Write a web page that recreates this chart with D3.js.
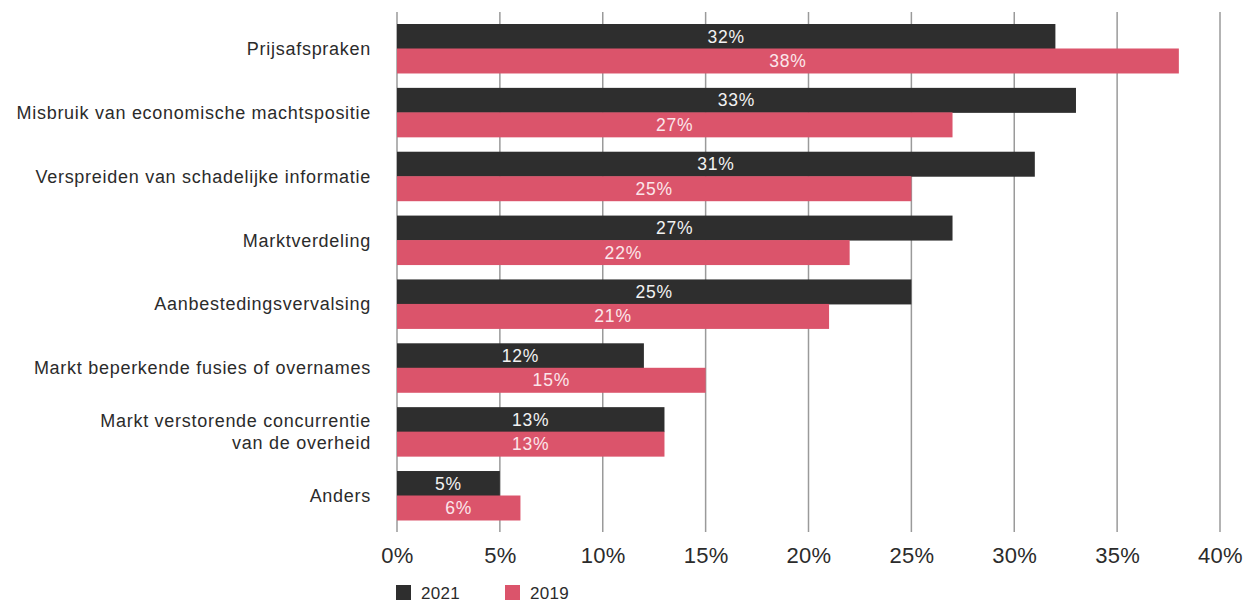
<!DOCTYPE html>
<html>
<head>
<meta charset="utf-8">
<script src="https://cdn.jsdelivr.net/npm/d3@7"></script>
<style>
  html, body { margin: 0; padding: 0; background: #fff; }
  svg { display: block; font-family: "Liberation Sans", Arial, Helvetica, sans-serif; }
</style>
</head>
<body>
<svg id="chart" width="1248" height="603"></svg>
<script>
// Categories (two-line labels split with "\n")
const categories = [
  "Prijsafspraken",
  "Misbruik van economische machtspositie",
  "Verspreiden van schadelijke informatie",
  "Marktverdeling",
  "Aanbestedingsvervalsing",
  "Markt beperkende fusies of overnames",
  "Markt verstorende concurrentie\nvan de overheid",
  "Anders"
];
const seriesNames = ["2021", "2019"];
const values2021 = [32, 33, 31, 27, 25, 12, 13, 5];
const values2019 = [38, 27, 25, 22, 21, 15, 13, 6];
const tickValues = [0, 5, 10, 15, 20, 25, 30, 35, 40];

const colors = { "2021": "#2e2e2e", "2019": "#db546b" };
const labelColors = { "2021": "#f2f2f2", "2019": "#fbe6ea" };

const svg = d3.select("#chart");
const plotLeft = 397, plotRight = 1220, plotTop = 12, plotBottom = 532;

const x = d3.scaleLinear().domain([0, 40]).range([plotLeft, plotRight]);
const y = d3.scaleBand().domain(categories).range([plotTop, plotBottom])
  .paddingInner(0.233).paddingOuter(0.188);
const ySub = d3.scaleBand().domain(seriesNames).range([0, y.bandwidth()]);

// Vertical gridlines
svg.append("g")
  .selectAll("line")
  .data(tickValues)
  .join("line")
  .attr("x1", d => x(d)).attr("x2", d => x(d))
  .attr("y1", plotTop).attr("y2", plotBottom)
  .attr("stroke", "#9a9a9a")
  .attr("stroke-width", 1.5);

const rows = categories.map((c, i) => ({
  cat: c,
  vals: [{ s: "2021", v: values2021[i] }, { s: "2019", v: values2019[i] }]
}));

const groups = svg.append("g").selectAll("g")
  .data(rows)
  .join("g")
  .attr("transform", d => `translate(0,${y(d.cat)})`);

groups.selectAll("rect")
  .data(d => d.vals)
  .join("rect")
  .attr("x", x(0))
  .attr("y", d => ySub(d.s))
  .attr("width", d => x(d.v) - x(0))
  .attr("height", ySub.bandwidth() + 0.5)
  .attr("fill", d => colors[d.s]);

groups.selectAll("text.val")
  .data(d => d.vals)
  .join("text")
  .attr("class", "val")
  .attr("x", d => (x(0) + x(d.v)) / 2)
  .attr("y", d => ySub(d.s) + ySub.bandwidth() / 2)
  .attr("dy", "0.36em")
  .attr("text-anchor", "middle")
  .attr("font-size", 17.5)
  .attr("letter-spacing", 0.8)
  .attr("fill", d => labelColors[d.s])
  .text(d => d.v + "%");

// Category labels
const catLabels = svg.append("g").selectAll("text")
  .data(categories)
  .join("text")
  .attr("x", 371)
  .attr("y", d => y(d) + y.bandwidth() / 2)
  .attr("text-anchor", "end")
  .attr("font-size", 18)
  .attr("letter-spacing", 0.72)
  .attr("fill", "#2b2b2b");

catLabels.each(function(d) {
  const lines = d.split("\n");
  const lh = 22;
  const t = d3.select(this);
  lines.forEach((ln, i) => {
    t.append("tspan")
      .attr("x", 371)
      .attr("y", y(d) + y.bandwidth() / 2 + (i - (lines.length - 1) / 2) * lh)
      .attr("dy", "0.36em")
      .text(ln);
  });
});

// X axis labels
const xAxis = d3.axisBottom(x).tickValues(tickValues).tickSize(0).tickPadding(0)
  .tickFormat(d => d + "%");
const ax = svg.append("g").attr("transform", `translate(0,${plotBottom})`).call(xAxis);
ax.select(".domain").remove();
ax.selectAll("text")
  .attr("y", 31)
  .attr("dy", 0)
  .attr("font-size", 22)
  .attr("letter-spacing", 0.3)
  .attr("font-family", "Liberation Sans, Arial, sans-serif")
  .attr("fill", "#2b2b2b");

// Legend
const legend = svg.append("g").selectAll("g")
  .data(seriesNames)
  .join("g")
  .attr("transform", (d, i) => `translate(${396 + i * 109},585)`);
legend.append("rect")
  .attr("width", 15).attr("height", 15)
  .attr("fill", d => colors[d]);
legend.append("text")
  .attr("x", 25).attr("y", 13.5)
  .attr("font-size", 17)
  .attr("letter-spacing", 0.3)
  .attr("fill", "#2b2b2b")
  .text(d => d);
</script>
</body>
</html>
